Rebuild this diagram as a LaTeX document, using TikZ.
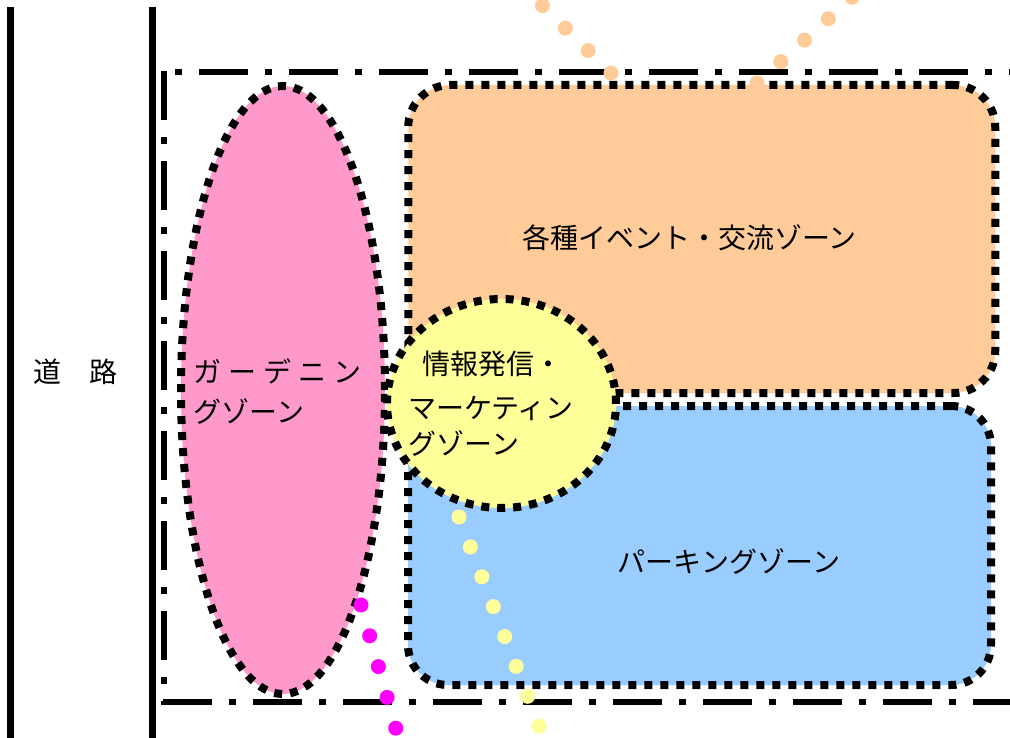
\documentclass[tikz,border=0pt]{standalone}
\usepackage{fontspec}
\setmainfont{Noto Sans CJK JP}
\usetikzlibrary{shapes.geometric}
\definecolor{zpink}{HTML}{FF99CC}
\definecolor{zorange}{HTML}{FFCC99}
\definecolor{zblue}{HTML}{99CCFF}
\definecolor{zyellow}{HTML}{FFFF99}
\definecolor{zmag}{HTML}{FF00FF}
\begin{document}
\begin{tikzpicture}[x=1pt,y=-1pt,
  zonebdr/.style={draw=black, line width=8pt, dash pattern=on 8pt off 8pt, inner sep=0pt},
  roadline/.style={line width=7pt},
  sitebdr/.style={line width=6pt, dash pattern=on 49pt off 17pt on 7pt off 17pt},
  dotline/.style={line width=15pt, line cap=round, dash pattern=on 0pt off 32pt},
  lbl/.style={font=\fontsize{28}{40}\selectfont, inner sep=0pt}]
\useasboundingbox (0,0) rectangle (1010,738);
\clip (0,0) rectangle (1010,738);
\fill[white] (0,0) rectangle (1010,738);
% road
\coordinate (r1t) at (10.5,7);  \coordinate (r1b) at (10.5,745);
\coordinate (r2t) at (152.5,7); \coordinate (r2b) at (152.5,745);
\draw[roadline] (r1t) -- (r1b);
\draw[roadline] (r2t) -- (r2b);
\node[lbl] (road) at (76,372) {道　路};
% site border
\coordinate (stl) at (164,71);
\coordinate (sbl) at (164,705);
\coordinate (stl2) at (161,72);
\coordinate (str) at (1015,72);
\coordinate (sbl2) at (163,702);
\coordinate (sbr) at (1015,702);
\draw[sitebdr] (stl) -- (sbl);
\draw[sitebdr, dash phase=52pt] (stl2) -- (str);
\draw[sitebdr] (sbl2) -- (sbr);
% zones
\node[ellipse, zonebdr, fill=zpink, minimum width=204pt, minimum height=608pt] (garden) at (283,390) {};
\node[rectangle, rounded corners=42pt, zonebdr, fill=zorange, minimum width=587pt, minimum height=308pt] (event) at (701.75,239) {};
\node[rectangle, rounded corners=40pt, zonebdr, fill=zblue, minimum width=583pt, minimum height=279pt] (parking) at (699.5,545.5) {};
\node[ellipse, zonebdr, fill=zyellow, minimum width=229pt, minimum height=209pt] (info) at (501.5,403.5) {};
% labels
\node[lbl, align=left, anchor=west] (gardenlbl) at (193,392) {ガ\kern7ptー\kern7ptデ\kern7ptニ\kern7ptン\\グゾーン};
\node[lbl] (eventlbl) at (689.5,238) {各種イベント・交流ゾーン};
\node[lbl, align=left, anchor=west] (infolbl) at (408,404) {\hspace{14pt}情報発信・\\[4pt]マーケティン\\[-4pt]グゾーン};
\node[lbl] (parklbl) at (729,562) {パーキングゾーン};
% dotted trails
\coordinate (m1) at (361,605); \coordinate (m2) at (402.3,751.3);
\coordinate (y1) at (459,517); \coordinate (y2) at (551,757.4);
\coordinate (o1) at (611,73);  \coordinate (o2) at (521.3,-15.1);
\coordinate (p1) at (757,83);  \coordinate (p2) at (868,-17);
\draw[dotline, zmag] (m1) -- (m2);
\draw[dotline, zyellow] (y1) -- (y2);
\draw[dotline, zorange] (o1) -- (o2);
\draw[dotline, zorange] (p1) -- (p2);
\end{tikzpicture}
\end{document}
